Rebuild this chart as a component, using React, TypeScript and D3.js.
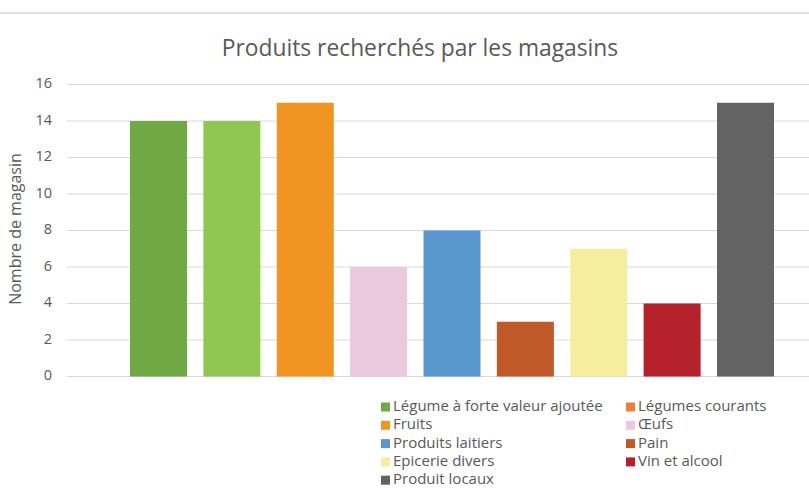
import React from "react";
import * as d3 from "d3";

const width = 809;
const height = 500;

const title = "Produits recherchés par les magasins";
const yLabel = "Nombre de magasin";

const series = [
  "Légume à forte valeur ajoutée",
  "Légumes courants",
  "Fruits",
  "Œufs",
  "Produits laitiers",
  "Pain",
  "Epicerie divers",
  "Vin et alcool",
  "Produit locaux"
];
const values = [14, 14, 15, 6, 8, 3, 7, 4, 15];
const barColors = [
  "#70a846",
  "#90c752",
  "#f29422",
  "#eac8de",
  "#5b97cf",
  "#bf5a28",
  "#f5eea0",
  "#b5212a",
  "#636363"
];
// the legend swatch of the second series is orange in the source picture
const legendColors = [
  "#70a846",
  "#e8803a",
  "#f29422",
  "#eac8de",
  "#5b97cf",
  "#bf5a28",
  "#f5eea0",
  "#b5212a",
  "#636363"
];
const yTicks = [0, 2, 4, 6, 8, 10, 12, 14, 16];

const font = "'Open Sans', sans-serif";
const textColor = "#595959";
const gridColor = "#d9d9d9";

const plot = { left: 67, right: 809, top: 84.5, bottom: 376.5 };

export default function App() {
  const x = d3
    .scaleBand<string>()
    .domain(series)
    .range([130, 774])
    .paddingInner(0.223)
    .paddingOuter(0);

  const y = d3
    .scaleLinear()
    .domain([0, 16])
    .range([plot.bottom, plot.top]);

  // legend: two columns, row-major
  const legendRow = d3.scaleLinear().domain([0, 1]).range([407, 425.3]);
  const legendCol = [381, 626];

  return (
    <svg
      width={width}
      height={height}
      style={{ position: "absolute", left: 0, top: 0, background: "#fff" }}
    >
      <line x1={0} x2={width} y1={13} y2={13} stroke={gridColor} strokeWidth={1.5} />

      <text
        x={420}
        y={50}
        textAnchor="middle"
        dominantBaseline="middle"
        fontFamily={font}
        fontSize={22.8}
        fill={textColor}
      >
        {title}
      </text>

      {yTicks.map(t => (
        <g key={t}>
          <line
            x1={plot.left}
            x2={plot.right}
            y1={y(t)}
            y2={y(t)}
            stroke={gridColor}
            strokeWidth={1}
          />
          <text
            x={52}
            y={y(t)}
            textAnchor="end"
            dominantBaseline="middle"
            fontFamily={font}
            fontSize={14.5}
            fill={textColor}
          >
            {t}
          </text>
        </g>
      ))}

      <text
        transform={`translate(17,${229}) rotate(-90)`}
        textAnchor="middle"
        dominantBaseline="middle"
        fontFamily={font}
        fontSize={16}
        fill={textColor}
      >
        {yLabel}
      </text>

      {series.map((s, i) => (
        <rect
          key={s}
          x={x(s)}
          y={y(values[i])}
          width={x.bandwidth()}
          height={y(0) - y(values[i])}
          fill={barColors[i]}
        />
      ))}

      {series.map((s, i) => {
        const col = i % 2;
        const row = Math.floor(i / 2);
        const cy = legendRow(row);
        return (
          <g key={s}>
            <rect x={legendCol[col]} y={cy - 4.5} width={9} height={9} fill={legendColors[i]} />
            <text
              x={legendCol[col] + 12}
              y={cy}
              dominantBaseline="middle"
              fontFamily={font}
              fontSize={15}
              fill={textColor}
            >
              {s}
            </text>
          </g>
        );
      })}
    </svg>
  );
}
